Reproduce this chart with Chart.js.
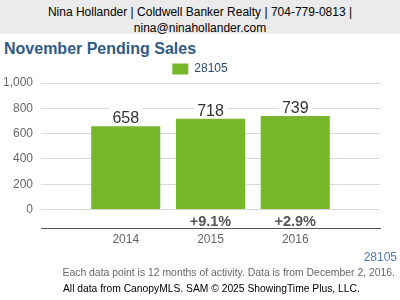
<!DOCTYPE html>
<html>
<head>
<meta charset="utf-8">
<script src="https://cdn.jsdelivr.net/npm/chart.js@4.4.1/dist/chart.umd.min.js"></script>
<style>
  html, body { margin: 0; padding: 0; background: #fff; }
  body { width: 400px; height: 300px; position: relative; overflow: hidden; font-family: "Liberation Sans", Arial, sans-serif; }
  #head { position: absolute; left: 0; top: 0; width: 400px; height: 34px; background: #ebebeb; color: #000;
          font-size: 12px; line-height: 16px; text-align: center; padding-top: 4px; box-sizing: border-box; }
  #title { position: absolute; left: 4px; top: 39px; font-size: 16px; line-height: 20px; font-weight: bold; color: #2f5b85; }
  #wrap { position: absolute; left: 0; top: 53px; width: 400px; height: 199px; }
  #zip { position: absolute; right: 3px; top: 249px; font-size: 12px; line-height: 16px; color: #4f7bb0; }
  #note { position: absolute; right: 5px; top: 265px; font-size: 10.4px; line-height: 16px; color: #666; white-space: nowrap; }
  #src { position: absolute; left: 63px; top: 282px; font-size: 10.3px; line-height: 14px; color: #000; white-space: nowrap; }
</style>
</head>
<body>
<div id="head">Nina Hollander | Coldwell Banker Realty | 704-779-0813 |<br>nina@ninahollander.com</div>
<div id="title">November Pending Sales</div>
<div id="wrap"><canvas id="myChart" width="400" height="199"></canvas></div>
<div id="zip">28105</div>
<div id="note">Each data point is 12 months of activity. Data is from December 2, 2016.</div>
<div id="src">All data from CanopyMLS. SAM © 2025 ShowingTime Plus, LLC.</div>

<script>
// blank slots on each side so the bars sit where the original puts them
var years = ['', '2014', '2015', '2016', ''];
var sales = [null, 658, 718, 739, null];
var changes = ['', '', '+9.1%', '+2.9%', ''];
var yTicks = [0, 200, 400, 600, 800, 1000];
var seriesName = '28105';

var font = '"Liberation Sans", Arial, sans-serif';

// value on top of each bar (white box behind it) and the change under it
var barLabels = {
  id: 'barLabels',
  afterDatasetsDraw: function(chart) {
    var ctx = chart.ctx;
    var meta = chart.getDatasetMeta(0);
    var zero = chart.scales.y.getPixelForValue(0);
    ctx.save();
    meta.data.forEach(function(bar, i) {
      if (sales[i] == null) return;
      var txt = String(sales[i]);
      ctx.font = '16px ' + font;
      var w = ctx.measureText(txt).width;
      ctx.fillStyle = '#fff';
      ctx.fillRect(bar.x - w / 2 - 3, bar.y - 20, w + 6, 18);
      ctx.fillStyle = '#333';
      ctx.textAlign = 'center';
      ctx.textBaseline = 'alphabetic';
      ctx.fillText(txt, bar.x, bar.y - 3);
      if (changes[i]) {
        ctx.font = 'bold 14.5px ' + font;
        ctx.fillStyle = '#555';
        ctx.textBaseline = 'middle';
        ctx.fillText(changes[i], bar.x, zero + 12);
      }
    });
    ctx.restore();
  }
};

var ctx = document.getElementById('myChart').getContext('2d');
var chart = new Chart(ctx, {
  type: 'bar',
  data: {
    labels: years,
    datasets: [{
      label: seriesName,
      data: sales,
      backgroundColor: '#77b82a',
      borderWidth: 0,
      categoryPercentage: 1,
      barPercentage: 0.815
    }]
  },
  options: {
    responsive: false,
    animation: false,
    layout: { padding: { top: 0, right: 0, bottom: 1, left: 0 } },
    plugins: {
      legend: {
        maxHeight: 30,
        labels: {
          boxWidth: 16, boxHeight: 11, padding: 10,
          color: '#2d4d70',
          font: { family: font, size: 12 }
        }
      },
      tooltip: { enabled: false }
    },
    scales: {
      x: {
        offset: false,
        grid: { display: false, drawTicks: false },
        border: { display: true, color: '#555', width: 1 },
        ticks: { color: '#666', padding: 4, font: { family: font, size: 12 }, maxRotation: 0, autoSkip: false }
      },
      y: {
        min: -150,
        max: 1000,
        afterBuildTicks: function(scale) {
          scale.ticks = yTicks.map(function(v) { return { value: v }; });
        },
        afterFit: function(scale) { scale.width = 41; },
        grid: { color: '#d9d9d9', drawTicks: false },
        border: { display: false },
        ticks: {
          color: '#666', padding: 8,
          font: { family: font, size: 12 },
          callback: function(v) { return v.toLocaleString('en-US'); }
        }
      },
      // empty right-hand axis: only reserves the margin, so the legend stays centred on the page
      yr: {
        position: 'right',
        grid: { display: false },
        border: { display: false },
        ticks: { display: false },
        afterFit: function(scale) { scale.width = 20; }
      }
    }
  },
  plugins: [barLabels]
});
</script>
</body>
</html>
